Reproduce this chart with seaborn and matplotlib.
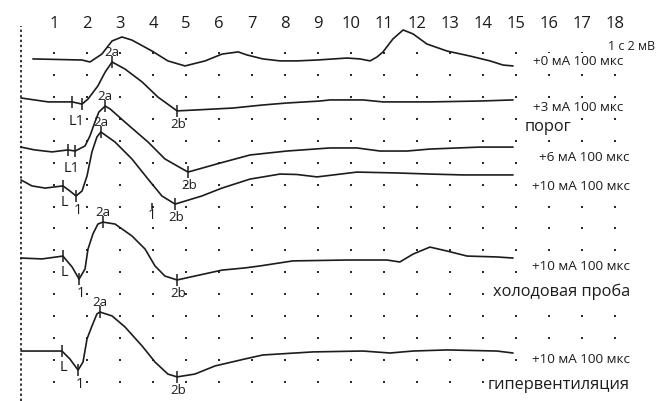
import numpy as np
import pandas as pd
import matplotlib
matplotlib.use("Agg")
import matplotlib.pyplot as plt
import seaborn as sns

# ---------------- data ----------------
# horizontal divisions shown on top
divisions = list(range(1, 19))
grid_rows = list(range(0, 16))

# traces: time in divisions, vertical position in grid rows (downwards)
t1_t = [0.36, 1.85, 2.09, 2.45, 2.76, 3.06, 3.36, 3.97, 4.45, 4.97, 5.58, 6.09, 6.58, 6.85, 7.33, 7.85,
        8.36, 8.97, 9.88, 10.27, 10.58, 10.79, 10.97, 11.27, 11.58, 11.88, 12.30, 12.91, 13.61, 14.21,
        14.61, 14.91]
t1_y = [0.27, 0.32, 0.41, 0.05, -0.55, -0.73, -0.59, -0.09, 0.36, 0.59, 0.36, 0.05, -0.05, 0.09, 0.27, 0.36,
        0.36, 0.32, 0.23, 0.27, 0.36, 0.18, -0.05, -0.64, -1.05, -0.87, -0.41, -0.09, 0.14, 0.36,
        0.55, 0.59]

t2_t = [0.0, 0.82, 1.55, 1.85, 2.03, 2.33, 2.55, 2.76, 3.15, 3.67, 4.15, 4.73, 5.27, 6.42, 7.33, 8.06,
        9.06, 9.36, 10.36, 10.97, 12.39, 13.91, 14.91]
t2_y = [2.05, 2.23, 2.23, 2.33, 2.10, 1.50, 0.87, 0.41, 0.73, 1.32, 2.01, 2.64, 2.60, 2.51, 2.37, 2.28,
        2.19, 2.14, 2.14, 2.23, 2.23, 2.19, 2.14]

t3_t = [0.0, 0.42, 0.94, 1.42, 1.64, 1.94, 2.09, 2.24, 2.36, 2.55, 2.70, 3.15, 3.85, 4.36, 5.06, 6.03,
        6.94, 8.06, 9.36, 10.18, 10.88, 11.70, 12.39, 13.91, 14.91]
t3_y = [4.29, 4.42, 4.51, 4.42, 4.47, 4.24, 3.78, 3.15, 2.69, 2.42, 2.55, 3.15, 4.06, 4.83, 5.43, 5.02,
        4.65, 4.47, 4.33, 4.33, 4.47, 4.47, 4.38, 4.29, 4.29]

t4_t = [0.0, 0.33, 0.73, 1.27, 1.48, 1.67, 1.85, 2.00, 2.15, 2.30, 2.42, 2.85, 3.36, 3.85, 4.27, 4.67,
        5.48, 6.09, 6.94, 7.85, 8.36, 8.97, 9.36, 10.18, 11.39, 12.39, 13.39, 14.91]
t4_y = [5.79, 6.06, 6.16, 6.06, 6.29, 6.52, 6.29, 5.61, 4.51, 3.83, 3.60, 4.06, 4.83, 5.75, 6.52, 6.89,
        6.52, 6.16, 5.75, 5.52, 5.54, 5.65, 5.58, 5.43, 5.47, 5.52, 5.56, 5.56]

t5_t = [0.0, 0.64, 1.27, 1.55, 1.76, 1.94, 2.03, 2.18, 2.33, 2.48, 2.85, 3.36, 3.76, 4.06, 4.36, 4.73,
        5.27, 6.09, 6.79, 7.24, 8.24, 9.88, 11.09, 11.48, 11.88, 12.39, 12.91, 13.52, 14.42, 14.91]
t5_y = [9.35, 9.39, 9.26, 9.76, 10.31, 9.85, 8.94, 8.25, 7.80, 7.71, 7.80, 8.34, 8.94, 9.71, 10.17, 10.35,
        10.17, 9.90, 9.80, 9.71, 9.48, 9.44, 9.44, 9.53, 9.17, 8.85, 9.03, 9.26, 9.30, 9.35]

t6_t = [0.0, 1.24, 1.48, 1.73, 1.88, 2.00, 2.15, 2.30, 2.39, 2.76, 3.15, 3.67, 4.06, 4.45, 4.73, 5.27,
        5.88, 6.79, 7.33, 8.85, 10.36, 11.18, 11.88, 12.91, 14.42, 14.91]
t6_y = [13.59, 13.59, 13.95, 14.46, 14.09, 13.04, 12.45, 11.90, 11.81, 11.99, 12.49, 13.36, 14.09, 14.64,
        14.77, 14.64, 14.27, 13.95, 13.77, 13.63, 13.59, 13.68, 13.59, 13.54, 13.59, 13.68]

trace_names = ["+0 мА 100 мкс", "+3 мА 100 мкс", "+6 мА 100 мкс",
               "+10 мА 100 мкс", "+10 мА 100 мкс ", "+10 мА 100 мкс  "]
trace_t = [t1_t, t2_t, t3_t, t4_t, t5_t, t6_t]
trace_y = [t1_y, t2_y, t3_y, t4_y, t5_y, t6_y]
trace_notes = ["", "порог", "", "", "холодовая проба", "гипервентиляция"]

# latency markers (time in divisions) per trace
marks_L = [None, 1.55, 1.42, 1.27, 1.27, 1.24]
marks_1 = [None, 1.85, 1.64, 1.67, 1.76, 1.73]
marks_2a = [None, 2.76, 2.55, 2.42, 2.48, 2.39]
marks_2b = [None, 4.73, 5.06, 4.67, 4.73, 4.73]
joined_L1 = [False, True, True, False, False, False]
extra_mark_t, extra_mark_y = 3.97, 6.98

scale_text = "1 с 2 мВ"

# ---------------- figure ----------------
W, H = 669, 402
fig = plt.figure(figsize=(W / 100, H / 100), dpi=100)
sns.set_style("white")
plt.rcParams['font.family'] = ['Open Sans', 'DejaVu Sans']
top_px = 34
ax = fig.add_axes([0, 0, 1, 1 - top_px / H])

px_per_div = 33.0
px_per_row = 21.93
x0_px, y0_px = 21.0, 54.0
ax.set_xlim((0 - x0_px) / px_per_div, (W - x0_px) / px_per_div)
ax.set_ylim((H - y0_px) / px_per_row, (top_px - y0_px) / px_per_row)

ink = "#1c1c1c"

# dotted grid
gx, gy = np.meshgrid(divisions, grid_rows)
grid_df = pd.DataFrame({"t": gx.ravel(), "row": gy.ravel()})
sns.scatterplot(data=grid_df, x="t", y="row", marker="s", s=2.4, color="#2a2a2a",
                linewidth=0, ax=ax, zorder=1)

# traces
rows = []
for name, tt, yy in zip(trace_names, trace_t, trace_y):
    for a, b in zip(tt, yy):
        rows.append({"trace": name, "t": a, "row": b})
df = pd.DataFrame(rows)
sns.lineplot(data=df, x="t", y="row", units="trace", estimator=None, sort=False,
             color=ink, lw=1.2, ax=ax, zorder=3)
for ln in ax.lines:
    ln.set_clip_on(False)

# stimulus line at t = 0
line_top_row = (27 - y0_px) / px_per_row
ax.plot([0, 0], [ax.get_ylim()[0], line_top_row], ls=(0, (1.2, 1.4)),
        color="#333333", lw=1.4, zorder=2, clip_on=False)

# markers and labels
lab_fs = 9.5
for i in range(len(trace_t)):
    tt, yy = trace_t[i], trace_y[i]
    if marks_L[i] is None:
        continue
    for m in (marks_L[i], marks_1[i], marks_2a[i], marks_2b[i]):
        ax.plot([m], [np.interp(m, tt, yy)], marker="|", ms=8, mew=1.1, color=ink, zorder=4)
    yL = np.interp(marks_L[i], tt, yy)
    y1 = np.interp(marks_1[i], tt, yy)
    if joined_L1[i]:
        ax.annotate("L1", ((marks_L[i] + marks_1[i]) / 2, max(yL, y1)), xytext=(0, -12),
                    textcoords="offset points", ha="center", va="center", fontsize=10.5, color=ink)
    else:
        ax.annotate("L", (marks_L[i], yL), xytext=(1, -11), textcoords="offset points",
                    ha="center", va="center", fontsize=10.5, color=ink)
        ax.annotate("1", (marks_1[i], y1), xytext=(1, -10), textcoords="offset points",
                    ha="center", va="center", fontsize=10.5, color=ink)
    ya = np.interp(marks_2a[i], tt, yy)
    ax.annotate("2a", (marks_2a[i], ya), xytext=(0, 7.5), textcoords="offset points",
                ha="center", va="center", fontsize=lab_fs, color=ink)
    yb = np.interp(marks_2b[i], tt, yy)
    ax.annotate("2b", (marks_2b[i], yb), xytext=(1, -9), textcoords="offset points",
                ha="center", va="center", fontsize=lab_fs, color=ink)

ax.plot([extra_mark_t], [extra_mark_y], marker="|", ms=5, mew=1.1, color=ink, zorder=4)
ax.annotate("1", (extra_mark_t, extra_mark_y), xytext=(0, -6), textcoords="offset points",
            ha="center", va="center", fontsize=10.5, color=ink)

# right-side labels
bb = dict(facecolor="white", edgecolor="none", pad=1.0)
name_x = [18.24, 18.24, 18.45, 18.45, 18.45, 18.45]
name_row = [0.36, 2.46, 4.70, 6.06, 9.71, 13.95]
note_row = [None, 3.33, None, None, 10.85, 15.09]
for i in range(len(trace_names)):
    ax.text(name_x[i], name_row[i], trace_names[i].strip(), ha="right", va="center",
            fontsize=9.7, color=ink, bbox=bb, zorder=5)
    if trace_notes[i]:
        if i == 1:
            ax.text(15.27, note_row[i], trace_notes[i], ha="left", va="center",
                    fontsize=11.8, color=ink, bbox=bb, zorder=5)
        else:
            ax.text(18.45, note_row[i], trace_notes[i], ha="right", va="center",
                    fontsize=11.8, color=ink, bbox=bb, zorder=5)
ax.text(19.21, -0.32, scale_text, ha="right", va="center", fontsize=9, color=ink, bbox=bb, zorder=5)

# top division numbers
ax.xaxis.tick_top()
ax.set_xticks(divisions)
ax.set_xticklabels([str(d) for d in divisions], fontsize=12, color=ink)
ax.tick_params(axis="x", length=0, pad=1.5)
ax.set_yticks([])
ax.set_xlabel("")
ax.set_ylabel("")
sns.despine(ax=ax, left=True, bottom=True, top=True, right=True)
if ax.get_legend() is not None:
    ax.get_legend().remove()

fig.savefig("out.png", dpi=100, facecolor="white")
